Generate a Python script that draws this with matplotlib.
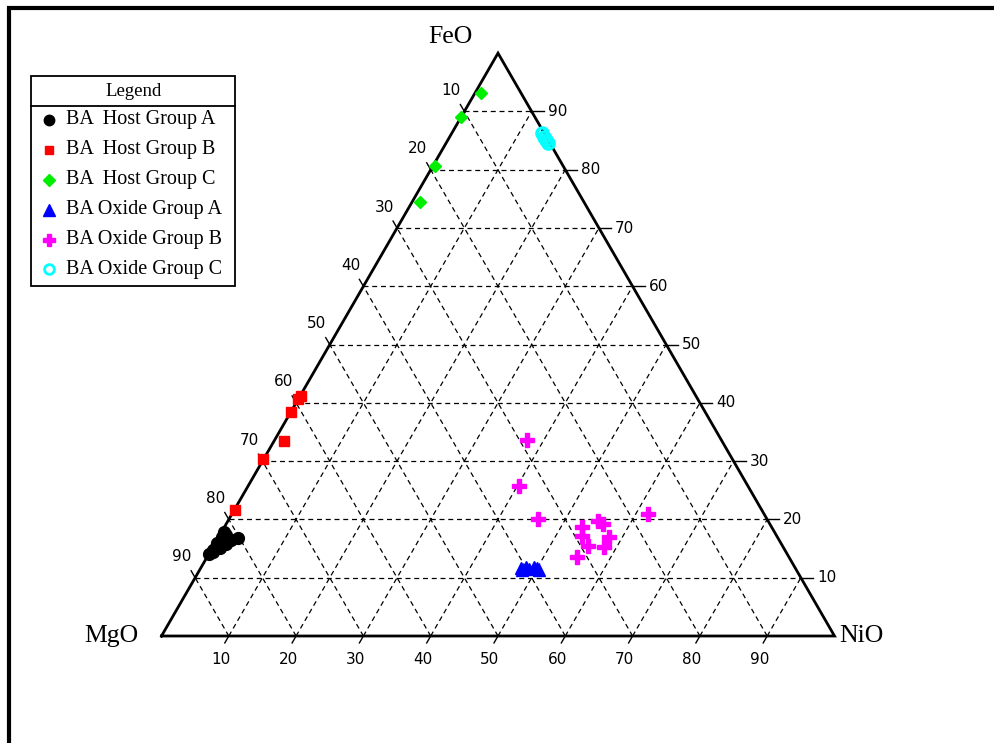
import numpy as np
import matplotlib
matplotlib.use("Agg")
import matplotlib.pyplot as plt
from matplotlib.lines import Line2D
from matplotlib.patches import Rectangle

# ---- data: (FeO, NiO, MgO) in wt% ----
host_a_feo = [14.0, 14.4, 14.8, 15.2, 15.5, 15.9, 16.3, 16.6, 17.0, 17.4, 17.8, 16.9, 16.4, 15.7, 15.1]
host_a_nio = [0.1, 0.5, 0.2, 0.5, 0.9, 0.3, 0.7, 1.3, 0.5, 0.9, 0.4, 2.9, 2.2, 1.7, 1.2]
host_a_mgo = [85.9, 85.1, 85.0, 84.3, 83.6, 83.8, 83.0, 82.1, 82.5, 81.7, 81.8, 80.2, 81.4, 82.6, 83.7]

host_b_feo = [41.2, 40.6, 38.5, 33.5, 30.3, 21.7]
host_b_nio = [0.1, 0.0, 0.0, 1.4, 0.0, 0.0]
host_b_mgo = [58.7, 59.4, 61.5, 65.1, 69.7, 78.3]

host_c_feo = [93.1, 89.0, 80.6, 74.4]
host_c_nio = [0.9, 0.0, 0.3, 1.2]
host_c_mgo = [6.0, 11.0, 19.1, 24.4]

oxide_a_feo = [11.6, 11.8, 11.5, 11.9, 11.6, 11.4, 11.3]
oxide_a_nio = [47.6, 48.3, 48.8, 49.4, 50.0, 50.4, 47.9]
oxide_a_mgo = [40.8, 39.9, 39.7, 38.7, 38.4, 38.2, 40.8]

oxide_b_feo = [33.7, 25.7, 20.1, 18.7, 17.1, 19.7, 19.2, 17.0, 15.5, 15.3, 13.6, 20.9]
oxide_b_nio = [37.4, 40.2, 45.9, 53.1, 54.0, 55.0, 56.0, 58.0, 55.6, 58.1, 55.0, 61.8]
oxide_b_mgo = [28.9, 34.1, 34.0, 28.2, 28.9, 25.3, 24.8, 25.0, 28.9, 26.6, 31.4, 17.3]

oxide_c_feo = [86.3, 85.7, 85.1, 84.6]
oxide_c_nio = [13.4, 14.0, 14.6, 15.1]
oxide_c_mgo = [0.3, 0.3, 0.3, 0.3]

tick_values = [10, 20, 30, 40, 50, 60, 70, 80, 90]
apex_labels = ["MgO", "NiO", "FeO"]
legend_labels = ["BA  Host Group A", "BA  Host Group B", "BA  Host Group C",
                 "BA Oxide Group A", "BA Oxide Group B", "BA Oxide Group C"]

H = np.sqrt(3) / 2


def tern(feo, nio, mgo):
    feo = np.asarray(feo, float)
    nio = np.asarray(nio, float)
    mgo = np.asarray(mgo, float)
    tot = feo + nio + mgo
    f, n = feo / tot, nio / tot
    return n + f / 2, f * H


W, HT = 995, 743
SIDE = 673.0          # triangle side in pixels
X0, Y0 = 161.5, 107.0  # MgO corner from left / bottom in pixels
PX = 1.0 / SIDE

fig = plt.figure(figsize=(W / 100, HT / 100), dpi=100)
ax = fig.add_axes([0, 0, 1, 1])
ax.set_xlim(-X0 / SIDE, (W - X0) / SIDE)
ax.set_ylim(-Y0 / SIDE, (HT - Y0) / SIDE)
ax.axis("off")

# ---- grid ----
gkw = dict(color="black", lw=0.9, dashes=(4, 3), zorder=1)
for v in tick_values:
    t = v / 100
    # constant FeO (horizontal)
    ax.plot([t / 2, 1 - t / 2], [t * H, t * H], **gkw)
    # constant NiO (parallel to MgO-FeO edge)
    ax.plot([t, t + (1 - t) / 2], [0, (1 - t) * H], **gkw)
    # constant MgO (parallel to NiO-FeO edge)
    ax.plot([1 - t, (1 - t) / 2], [0, (1 - t) * H], **gkw)

# ---- triangle outline ----
ax.plot([0, 1, 0.5, 0], [0, 0, H, 0], color="black", lw=2.0,
        solid_joinstyle="miter", zorder=3)

# ---- ticks and tick labels ----
tick_font = dict(family="DejaVu Sans", fontsize=11, color="black")
for v in tick_values:
    t = v / 100
    # bottom axis: NiO
    bx, by = t, 0.0
    ax.plot([bx, bx - 0.5 * 8 * PX], [by, by - H * 8 * PX], color="black", lw=1.0, zorder=3)
    ax.text(bx - 8 * PX, by - 24 * PX, str(v), ha="center", va="center", **tick_font)
    # right axis: FeO
    rx, ry = 1 - t / 2, t * H
    ax.plot([rx, rx + 12 * PX], [ry, ry], color="black", lw=1.0, zorder=3)
    ax.text(rx + 16 * PX, ry, str(v), ha="left", va="center", **tick_font)
    # left axis: MgO
    f = 1 - t
    lx, ly = f / 2, f * H
    ax.plot([lx, lx - 0.5 * 8 * PX], [ly, ly + H * 8 * PX], color="black", lw=1.0, zorder=3)
    ax.text(lx - 13 * PX, ly + 21 * PX, str(v), ha="center", va="center", **tick_font)

# ---- apex labels ----
apex_font = dict(family="Liberation Serif", fontsize=18.5, color="black")
ax.text(-50 * PX, 0, apex_labels[0], ha="center", va="center", **apex_font)
ax.text(1 + 27 * PX, 0, apex_labels[1], ha="center", va="center", **apex_font)
ax.text(0.5 - 48 * PX, H + 16 * PX, apex_labels[2], ha="center", va="center", **apex_font)

# ---- data ----
styles = [
    dict(marker="o", color="black", ms=8.5, mec="black"),
    dict(marker="s", color="red", ms=6.5, mec="red"),
    dict(marker="D", color="#00ee00", ms=6.5, mec="#00ee00"),
    dict(marker="^", color="blue", ms=8.5, mec="blue"),
    dict(marker="P", color="magenta", ms=10, mec="magenta"),
    dict(marker="o", color="cyan", ms=8, mfc="none", mec="cyan", mew=2.5),
]
groups = [
    (host_a_feo, host_a_nio, host_a_mgo),
    (host_b_feo, host_b_nio, host_b_mgo),
    (host_c_feo, host_c_nio, host_c_mgo),
    (oxide_a_feo, oxide_a_nio, oxide_a_mgo),
    (oxide_b_feo, oxide_b_nio, oxide_b_mgo),
    (oxide_c_feo, oxide_c_nio, oxide_c_mgo),
]
for (fe, ni, mg), st in zip(groups, styles):
    x, y = tern(fe, ni, mg)
    ax.plot(x, y, ls="none", zorder=4, **st)


# ---- legend box (figure pixel coordinates, measured from top-left) ----
def fp(x, y):
    return x / W, 1 - y / HT


lx0, lx1, ly0, ly1, ysep = 31.5, 235.0, 76.0, 285.5, 106.0
(bx0, by1), (bx1, by0) = fp(lx0, ly0), fp(lx1, ly1)
fig.add_artist(Rectangle((bx0, by0), bx1 - bx0, by1 - by0, transform=fig.transFigure,
                         fill=False, ec="black", lw=1.3, zorder=5))
sx0, sy = fp(lx0, ysep)
sx1, _ = fp(lx1, ysep)
fig.add_artist(Line2D([sx0, sx1], [sy, sy], transform=fig.transFigure, color="black", lw=1.3))
tx, ty = fp((lx0 + lx1) / 2, 91)
fig.text(tx, ty, "Legend", ha="center", va="center", family="Liberation Serif", fontsize=13.5)

leg_sizes = [7.5, 6, 6.5, 8, 9, 7]
for i, (lab, st) in enumerate(zip(legend_labels, styles)):
    yy = 119.5 + 30 * i
    mx, my = fp(49, yy)
    s = dict(st)
    s["ms"] = leg_sizes[i]
    if "mew" in s:
        s["mew"] = 2.0
    fig.add_artist(Line2D([mx], [my], transform=fig.transFigure, ls="none", **s))
    tx, ty = fp(65.5, yy)
    fig.text(tx, ty, lab, ha="left", va="center", family="Liberation Serif", fontsize=14.5)

# ---- outer frame (top and left) ----
fig.add_artist(Line2D([7 / W, 1.0], [1 - 7.5 / HT, 1 - 7.5 / HT], transform=fig.transFigure,
                      color="black", lw=3.0, solid_capstyle="butt"))
fig.add_artist(Line2D([9 / W, 9 / W], [1 - 5.5 / HT, 0.0], transform=fig.transFigure,
                      color="black", lw=3.0, solid_capstyle="butt"))

fig.savefig("out.png", dpi=100)
